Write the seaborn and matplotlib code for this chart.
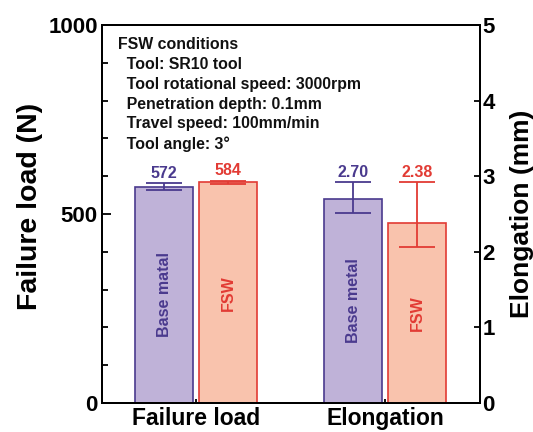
import pandas as pd
import matplotlib
matplotlib.use("Agg")
import matplotlib.pyplot as plt
from matplotlib.ticker import MultipleLocator
from matplotlib.container import BarContainer
import seaborn as sns

# Data
categories = ["Failure load", "Elongation"]
groups = ["Base metal", "FSW"]
failure_load = [572, 584]
failure_err_low = [9, 4]
failure_err_high = [10, 4]
elongation = [2.70, 2.38]
elong_err_low = [0.19, 0.31]
elong_err_high = [0.22, 0.54]
value_labels = [["572", "584"], ["2.70", "2.38"]]
inner_labels = [["Base matal", "FSW"], ["Base metal", "FSW"]]
conditions = ["FSW conditions",
              "  Tool: SR10 tool",
              "  Tool rotational speed: 3000rpm",
              "  Penetration depth: 0.1mm",
              "  Travel speed: 100mm/min",
              "  Tool angle: 3\u00b0"]

fill_colors = ["#BFB2D8", "#F9C3AD"]
edge_colors = ["#4A3A8E", "#E23B34"]

sns.set_style("ticks")
plt.rcParams['font.family'] = ['Liberation Sans', 'DejaVu Sans']
plt.rcParams['font.weight'] = 'bold'
for key in ['text.color', 'axes.labelcolor', 'xtick.color', 'ytick.color', 'axes.edgecolor']:
    plt.rcParams[key] = 'black'

df = pd.DataFrame({
    "Property": ["Failure load"] * 2 + ["Elongation"] * 2,
    "Group": groups * 2,
    "Value": failure_load + elongation,
})

fig = plt.figure(figsize=(5.33, 4.32), dpi=100)
ax1 = fig.add_axes([0.191, 0.067, 0.709, 0.875])
ax2 = ax1.twinx()

sns.barplot(data=df[df["Property"] == "Failure load"], x="Property", y="Value",
            hue="Group", order=categories, hue_order=groups, palette=fill_colors,
            width=0.68, gap=0.1, errorbar=None, legend=False, linewidth=1.2,
            saturation=1, ax=ax1)
sns.barplot(data=df[df["Property"] == "Elongation"], x="Property", y="Value",
            hue="Group", order=categories, hue_order=groups, palette=fill_colors,
            width=0.68, gap=0.1, errorbar=None, legend=False, linewidth=1.2,
            saturation=1, ax=ax2)

errs = [(failure_err_low, failure_err_high), (elong_err_low, elong_err_high)]
for gi, ax in enumerate([ax1, ax2]):
    lows, highs = errs[gi]
    bar_conts = [c for c in ax.containers if isinstance(c, BarContainer)]
    for hi_idx, cont in enumerate(bar_conts):
        for patch in cont.patches:
            h = patch.get_height()
            if pd.isna(h) or h == 0:
                continue
            x = patch.get_x() + patch.get_width() / 2
            ec = edge_colors[hi_idx]
            patch.set_edgecolor(ec)
            patch.set_linewidth(1.2)
            ax.errorbar(x, h, yerr=[[lows[hi_idx]], [highs[hi_idx]]], color=ec,
                        capsize=13, elinewidth=1.3, capthick=1.3, fmt='none')
            ax.annotate(value_labels[gi][hi_idx], (x, h + highs[hi_idx]),
                        xytext=(0, 4), textcoords="offset points",
                        ha="center", va="baseline", color=ec,
                        fontsize=11.5, fontweight="bold")
            ax.text(x, h / 2, inner_labels[gi][hi_idx], rotation=90,
                    ha="center", va="center", color=ec,
                    fontsize=11.5, fontweight="bold")

ax1.set_xlim(-0.5, 1.5)
ax1.set_ylim(0, 1000)
ax2.set_ylim(0, 5)
ax1.yaxis.set_major_locator(MultipleLocator(500))
ax1.yaxis.set_minor_locator(MultipleLocator(100))
ax2.yaxis.set_major_locator(MultipleLocator(1))

ax1.set_xlabel("")
ax2.set_xlabel("")
ax1.set_ylabel("Failure load (N)", fontsize=20.5, fontweight="bold", labelpad=4)
ax1.yaxis.label.set_y(0.52)
ax2.set_ylabel("Elongation (mm)", fontsize=19, fontweight="bold", labelpad=11)

ax1.tick_params(axis="y", which="major", direction="in", length=6.5, width=1.3,
                labelsize=16, pad=3, left=True, right=False)
ax1.tick_params(axis="y", which="minor", direction="in", length=4.5, width=1.3,
                left=True, right=False)
ax2.tick_params(axis="y", which="major", direction="in", length=4.5, width=1.3,
                labelsize=16, pad=2, left=False, right=True)
ax1.tick_params(axis="x", direction="in", length=3, width=1.3, labelsize=16.5, pad=3,
                top=False)
ax2.tick_params(axis="x", bottom=False, top=False, labelbottom=False)
for lab in ax1.get_xticklabels() + ax1.get_yticklabels() + ax2.get_yticklabels():
    lab.set_fontweight("bold")

for ax in [ax1, ax2]:
    for sp in ax.spines.values():
        sp.set_linewidth(1.4)
        sp.set_color("black")
        sp.set_visible(True)

ax1.text(0.042, 0.968, "\n".join(conditions), transform=ax1.transAxes,
         ha="left", va="top", fontsize=11.4, fontweight="bold",
         linespacing=1.4, color="#111111")

fig.savefig("out.png", dpi=100)
